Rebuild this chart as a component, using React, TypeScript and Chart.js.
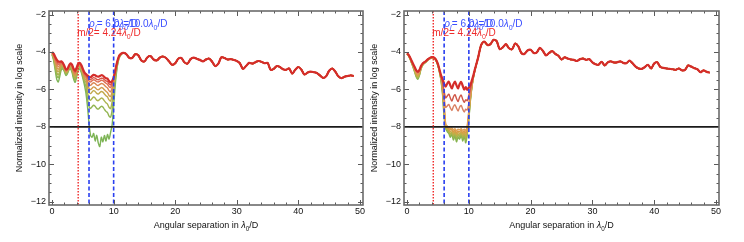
import { useEffect, useRef } from 'react';
import { Chart, registerables } from 'chart.js';

Chart.register(...registerables);

const FONT = '"Liberation Sans", Arial, Helvetica, sans-serif';

// Profiles are sampled finely up to 11 λ0/D, more coarsely beyond.
const INNER_START = 0;
const INNER_STEP = 0.25;
const OUTER_START = 11.5;
const OUTER_STEP = 0.5;

const X_TICKS = [0, 10, 20, 30, 40, 50];
const Y_TICKS = [-12, -10, -8, -6, -4, -2];
const X_MINOR = 2;
const Y_MINOR = 0.5;
const X_MIN = -0.5;
const X_MAX = 50.5;
const Y_MIN = -12.17;
const Y_MAX = -1.81;

const HALF_M = 4.24; // m/2 in λ0/D
const RHO_I = 6.0; // inner edge of the dark hole
const RHO_O = 10.0; // outer edge of the dark hole
const TARGET_LEVEL = -8;

// ---- left panel: contrast curves, green (first) to red (last) ----
const L_C0 = [-4.15, -4.45, -4.95, -5.45, -5.6, -5.3, -4.95, -4.9, -5.05, -5.25, -5.15, -4.95, -4.9, -5.1, -5.45, -5.62, -5.3, -4.95, -4.92, -5.1, -5.4, -5.75,
  -6.2, -6.9, -7.8, -8.45, -8.55, -8.35, -8.75, -8.45, -8.85, -9.05, -8.55, -8.8, -8.45, -8.75, -8.4, -8.65, -8.3, -7.9, -6.9, -5.8, -5.0, -4.5, -4.25];
const L_C1 = [-4.12, -4.38, -4.81, -5.24, -5.38, -5.14, -4.86, -4.84, -4.99, -5.18, -5.1, -4.9, -4.84, -5.02, -5.34, -5.5, -5.2, -4.88, -4.85, -5.02, -5.3, -5.62,
  -5.85, -6.5, -6.9, -7.02, -6.92, -6.84, -6.9, -7.01, -7.05, -6.97, -6.9, -6.94, -7.06, -7.17, -7.24, -7.42, -7.48, -7.1, -6.3, -5.55, -4.92, -4.47, -4.23];
const L_C2 = [-4.1, -4.32, -4.71, -5.08, -5.22, -5.03, -4.79, -4.79, -4.95, -5.13, -5.06, -4.87, -4.8, -4.95, -5.26, -5.4, -5.13, -4.83, -4.8, -4.96, -5.22, -5.52,
  -5.62, -6.15, -6.48, -6.58, -6.48, -6.4, -6.46, -6.57, -6.6, -6.52, -6.46, -6.5, -6.61, -6.71, -6.78, -6.95, -7.02, -6.65, -5.95, -5.35, -4.83, -4.43, -4.21];
const L_C3 = [-4.08, -4.27, -4.6, -4.93, -5.05, -4.91, -4.73, -4.74, -4.9, -5.09, -5.03, -4.84, -4.75, -4.89, -5.18, -5.31, -5.06, -4.79, -4.75, -4.9, -5.15, -5.42,
  -5.5, -5.9, -6.15, -6.22, -6.13, -6.06, -6.11, -6.21, -6.24, -6.17, -6.11, -6.14, -6.24, -6.33, -6.4, -6.56, -6.62, -6.3, -5.72, -5.22, -4.77, -4.41, -4.2];
const L_C4 = [-4.06, -4.22, -4.52, -4.8, -4.92, -4.82, -4.67, -4.7, -4.86, -5.05, -4.99, -4.81, -4.71, -4.84, -5.11, -5.24, -5.0, -4.75, -4.71, -4.85, -5.09, -5.33,
  -5.4, -5.72, -5.94, -6.01, -5.93, -5.86, -5.9, -5.99, -6.02, -5.96, -5.9, -5.93, -6.02, -6.1, -6.17, -6.32, -6.38, -6.1, -5.6, -5.15, -4.73, -4.39, -4.19];
const L_C5 = [-4.04, -4.18, -4.43, -4.67, -4.79, -4.72, -4.62, -4.66, -4.83, -5.01, -4.97, -4.78, -4.68, -4.79, -5.04, -5.16, -4.94, -4.71, -4.67, -4.8, -5.03, -5.25,
  -5.32, -5.55, -5.72, -5.78, -5.7, -5.64, -5.68, -5.76, -5.79, -5.73, -5.68, -5.7, -5.78, -5.86, -5.92, -6.06, -6.12, -5.9, -5.5, -5.1, -4.7, -4.37, -4.18];
const L_C6 = [-4.03, -4.14, -4.36, -4.57, -4.68, -4.64, -4.57, -4.63, -4.8, -4.97, -4.94, -4.76, -4.65, -4.75, -4.99, -5.1, -4.9, -4.67, -4.63, -4.76, -4.98, -5.19,
  -5.26, -5.42, -5.54, -5.6, -5.53, -5.48, -5.51, -5.58, -5.6, -5.55, -5.51, -5.53, -5.6, -5.67, -5.72, -5.85, -5.9, -5.72, -5.42, -5.05, -4.66, -4.35, -4.17];
const L_C7 = [-4.01, -4.11, -4.31, -4.48, -4.59, -4.58, -4.54, -4.61, -4.77, -4.95, -4.92, -4.74, -4.62, -4.71, -4.94, -5.05, -4.86, -4.65, -4.61, -4.73, -4.94, -5.13,
  -5.22, -5.35, -5.44, -5.48, -5.42, -5.37, -5.4, -5.46, -5.48, -5.44, -5.4, -5.41, -5.48, -5.54, -5.58, -5.7, -5.76, -5.62, -5.38, -5.02, -4.64, -4.34, -4.16];
const L_C8 = [-4.0, -4.08, -4.25, -4.4, -4.5, -4.52, -4.5, -4.58, -4.75, -4.92, -4.9, -4.72, -4.6, -4.68, -4.9, -5.0, -4.82, -4.62, -4.58, -4.7, -4.9, -5.08,
  -5.18, -5.25, -5.32, -5.35, -5.28, -5.22, -5.24, -5.3, -5.32, -5.28, -5.24, -5.26, -5.34, -5.4, -5.42, -5.55, -5.62, -5.55, -5.35, -5.0, -4.62, -4.32, -4.15];
// beyond 11 λ0/D the left curves coincide
const L_OUTER = [-4.05, -4.1, -4.3, -4.32, -4.12, -4.18, -4.45, -4.5, -4.28, -4.22, -4.4, -4.45, -4.3, -4.24, -4.32, -4.5, -4.68, -4.6, -4.36, -4.32,
  -4.55, -4.62, -4.38, -4.3, -4.36, -4.42, -4.5, -4.4, -4.35, -4.52, -4.75, -4.62, -4.28, -4.32, -4.4, -4.38, -4.42, -4.48, -4.6, -4.9,
  -4.75, -4.58, -4.62, -4.55, -4.48, -4.52, -4.6, -4.58, -4.95, -4.9, -4.75, -4.8, -4.92, -4.95, -4.88, -5.15, -4.95, -4.8, -4.95, -5.2,
  -5.1, -5.05, -5.08, -5.12, -5.25, -5.38, -5.3, -5.0, -4.88, -5.05, -5.3, -5.4, -5.32, -5.28, -5.25, -5.28];

// ---- right panel ----
const R_C0 = [-4.12, -4.22, -4.4, -4.62, -4.85, -5.1, -5.35, -5.45, -5.25, -4.92, -4.72, -4.62, -4.56, -4.47, -4.4, -4.35, -4.32, -4.33, -4.39, -4.52, -4.75, -5.1,
  -5.55, -6.3, -7.5, -8.1, -8.25, -8.35, -8.55, -8.4, -8.7, -8.5, -8.8, -8.55, -8.65, -8.45, -8.75, -8.5, -8.85, -8.4, -7.6, -6.6, -5.86, -5.35, -4.95];
const R_C1 = [-4.11, -4.21, -4.39, -4.6, -4.82, -5.06, -5.3, -5.4, -5.21, -4.9, -4.71, -4.61, -4.55, -4.46, -4.39, -4.34, -4.31, -4.32, -4.38, -4.51, -4.73, -5.08,
  -5.5, -6.2, -7.35, -8.05, -8.15, -8.3, -8.45, -8.35, -8.55, -8.4, -8.62, -8.45, -8.55, -8.38, -8.6, -8.42, -8.7, -8.3, -7.5, -6.55, -5.84, -5.34, -4.95];
const R_C2 = [-4.1, -4.2, -4.37, -4.58, -4.79, -5.02, -5.25, -5.34, -5.17, -4.87, -4.69, -4.6, -4.54, -4.45, -4.38, -4.33, -4.3, -4.31, -4.37, -4.5, -4.72, -5.06,
  -5.45, -6.1, -7.2, -8.0, -8.1, -8.22, -8.35, -8.28, -8.45, -8.32, -8.5, -8.38, -8.45, -8.3, -8.5, -8.35, -8.55, -8.2, -7.4, -6.5, -5.82, -5.33, -4.94];
const R_C3 = [-4.1, -4.19, -4.36, -4.56, -4.76, -4.98, -5.19, -5.28, -5.13, -4.85, -4.68, -4.59, -4.53, -4.45, -4.38, -4.33, -4.3, -4.31, -4.36, -4.49, -4.7, -5.04,
  -5.4, -6.0, -7.05, -7.95, -8.05, -8.15, -8.25, -8.2, -8.35, -8.25, -8.4, -8.3, -8.35, -8.25, -8.4, -8.28, -8.45, -8.1, -7.3, -6.45, -5.8, -5.32, -4.94];
const R_C4 = [-4.09, -4.18, -4.35, -4.54, -4.74, -4.94, -5.14, -5.22, -5.09, -4.83, -4.66, -4.58, -4.52, -4.44, -4.37, -4.32, -4.29, -4.3, -4.36, -4.48, -4.69, -5.02,
  -5.38, -5.9, -6.9, -7.9, -8.0, -8.08, -8.15, -8.12, -8.25, -8.18, -8.3, -8.22, -8.25, -8.18, -8.3, -8.2, -8.32, -8.0, -7.2, -6.4, -5.78, -5.31, -4.93];
const R_C5 = [-4.09, -4.17, -4.33, -4.53, -4.71, -4.9, -5.09, -5.17, -5.05, -4.81, -4.65, -4.57, -4.52, -4.44, -4.37, -4.32, -4.29, -4.3, -4.35, -4.47, -4.68, -5.0,
  -5.35, -5.82, -6.75, -7.85, -7.95, -8.02, -8.08, -8.05, -8.15, -8.1, -8.2, -8.12, -8.15, -8.1, -8.18, -8.12, -8.2, -7.9, -7.1, -6.35, -5.75, -5.3, -4.93];
const R_C6 = [-4.08, -4.17, -4.32, -4.51, -4.69, -4.87, -5.05, -5.12, -5.02, -4.79, -4.64, -4.56, -4.51, -4.43, -4.36, -4.31, -4.28, -4.29, -4.34, -4.46, -4.67, -4.98,
  -5.32, -5.7, -6.45, -6.95, -6.88, -6.8, -6.98, -7.12, -6.92, -6.82, -7.0, -7.15, -6.95, -6.85, -7.05, -7.2, -7.05, -7.1, -6.7, -6.15, -5.68, -5.28, -4.92];
const R_C7 = [-4.08, -4.16, -4.31, -4.49, -4.67, -4.84, -5.01, -5.08, -4.98, -4.77, -4.63, -4.55, -4.5, -4.42, -4.35, -4.3, -4.27, -4.28, -4.33, -4.45, -4.66, -4.96,
  -5.3, -5.6, -6.1, -6.45, -6.35, -6.25, -6.45, -6.62, -6.4, -6.28, -6.48, -6.65, -6.42, -6.3, -6.52, -6.68, -6.55, -6.6, -6.3, -5.95, -5.6, -5.26, -4.91];
const R_C8 = [-4.07, -4.15, -4.3, -4.48, -4.65, -4.82, -4.98, -5.05, -4.95, -4.75, -4.62, -4.55, -4.5, -4.42, -4.35, -4.3, -4.27, -4.28, -4.33, -4.45, -4.65, -4.95,
  -5.25, -5.45, -5.7, -5.85, -5.68, -5.58, -5.78, -5.95, -5.72, -5.58, -5.78, -5.95, -5.72, -5.6, -5.8, -6.0, -5.88, -6.02, -5.9, -5.75, -5.5, -5.22, -4.9];
const R_OUTER = [-4.3, -3.62, -3.45, -3.62, -3.58, -3.35, -3.42, -3.85, -3.75, -3.58, -3.8, -3.85, -3.55, -3.7, -4.05, -4.1, -3.92, -3.88, -4.05, -4.02,
  -3.78, -3.95, -4.18, -4.05, -3.95, -4.1, -4.2, -4.4, -4.28, -4.35, -4.4, -4.42, -4.48, -4.38, -4.35, -4.42, -4.38, -4.55, -4.65, -4.68,
  -4.52, -4.72, -4.55, -4.5, -4.56, -4.55, -4.5, -4.58, -4.6, -4.46, -4.6, -4.78, -4.88, -4.9, -4.8, -4.68, -4.88, -4.62, -4.55, -4.8,
  -4.85, -4.88, -4.9, -4.92, -4.95, -4.88, -4.98, -4.95, -4.72, -4.78, -4.86, -4.92, -5.08, -4.98, -5.06, -5.1];

const L_COLORS = ['#7db455', '#93b653', '#aab34e', '#c2aa4c', '#d39a4e', '#dc8653', '#df7056', '#da5446', '#d42d2a'];
const R_COLORS = ['#86b34f', '#9db54c', '#b5b248', '#cda847', '#d99a45', '#e0a055', '#d98062', '#cf5646', '#d42d2a'];

type Seg = { t: string; it?: boolean; sub?: boolean };

const TXT_RHO_I: Seg[] = [{ t: 'ρ', it: true }, { t: 'I', sub: true, it: true }, { t: '= 6.0' }, { t: 'λ', it: true }, { t: '0', sub: true }, { t: '/D' }];
const TXT_RHO_O: Seg[] = [{ t: 'ρ', it: true }, { t: 'o', sub: true, it: true }, { t: '=10.0' }, { t: 'λ', it: true }, { t: '0', sub: true }, { t: '/D' }];
const TXT_HALF_M: Seg[] = [{ t: 'm/2= 4.24' }, { t: 'λ', it: true }, { t: '0', sub: true }, { t: '/D' }];
const X_TITLE: Seg[] = [{ t: 'Angular separation in ' }, { t: 'λ', it: true }, { t: '0', sub: true }, { t: '/D' }];
const Y_TITLE = 'Normalized intensity in log scale';

const segFont = (s: Seg, size: number) => `${s.it ? 'italic ' : ''}${s.sub ? size * 0.7 : size}px ${FONT}`;

function richWidth(ctx: CanvasRenderingContext2D, segs: Seg[], size: number) {
  let w = 0;
  for (const s of segs) {
    ctx.font = segFont(s, size);
    w += ctx.measureText(s.t).width;
  }
  return w;
}

function drawRich(ctx: CanvasRenderingContext2D, segs: Seg[], x: number, y: number, size: number, color: string) {
  let cx = x;
  ctx.fillStyle = color;
  ctx.textAlign = 'left';
  ctx.textBaseline = 'alphabetic';
  for (const s of segs) {
    ctx.font = segFont(s, size);
    ctx.fillText(s.t, cx, s.sub ? y + size * 0.28 : y);
    cx += ctx.measureText(s.t).width;
  }
}

const fmt = (v: number) => (v < 0 ? '\u2212' + Math.abs(v) : String(v));

type Panel = {
  left: number;
  width: number;
  padRight: number;
  curves: number[][];
  outer: number[];
  colors: string[];
};

const PANELS: Panel[] = [
  { left: 0, width: 372, padRight: 9, curves: [L_C0, L_C1, L_C2, L_C3, L_C4, L_C5, L_C6, L_C7, L_C8], outer: L_OUTER, colors: L_COLORS },
  { left: 355, width: 389, padRight: 25, curves: [R_C0, R_C1, R_C2, R_C3, R_C4, R_C5, R_C6, R_C7, R_C8], outer: R_OUTER, colors: R_COLORS },
];

const decor = {
  id: 'decor',
  afterDatasetsDraw(chart: any) {
    const { ctx, chartArea: a } = chart;
    const xs = chart.scales.x;
    const ys = chart.scales.y;
    ctx.save();
    ctx.beginPath();
    ctx.rect(a.left, a.top, a.right - a.left, a.bottom - a.top);
    ctx.clip();

    // contrast target
    const py = ys.getPixelForValue(TARGET_LEVEL);
    ctx.strokeStyle = '#1a1a1a';
    ctx.lineWidth = 1.6;
    ctx.setLineDash([]);
    ctx.beginPath();
    ctx.moveTo(a.left, py);
    ctx.lineTo(a.right, py);
    ctx.stroke();

    // m/2
    const vx = (v: number) => xs.getPixelForValue(v);
    ctx.strokeStyle = '#f02828';
    ctx.lineWidth = 1.4;
    ctx.setLineDash([1.5, 1.5]);
    ctx.beginPath();
    ctx.moveTo(vx(HALF_M), a.top);
    ctx.lineTo(vx(HALF_M), a.bottom);
    ctx.stroke();

    // dark hole edges
    ctx.strokeStyle = '#2a3ff0';
    ctx.lineWidth = 1.6;
    ctx.setLineDash([4, 2.5]);
    for (const v of [RHO_I, RHO_O]) {
      ctx.beginPath();
      ctx.moveTo(vx(v), a.top);
      ctx.lineTo(vx(v), a.bottom);
      ctx.stroke();
    }
    ctx.setLineDash([]);
    ctx.restore();

    ctx.save();
    drawRich(ctx, TXT_RHO_I, vx(RHO_I), ys.getPixelForValue(-2.69), 10, '#3b4fff');
    drawRich(ctx, TXT_RHO_O, vx(RHO_O), ys.getPixelForValue(-2.69), 10, '#3b4fff');
    drawRich(ctx, TXT_HALF_M, vx(HALF_M) - 1, ys.getPixelForValue(-3.17), 10, '#ee2b2b');
    ctx.restore();
  },
  afterDraw(chart: any) {
    const { ctx, chartArea: a } = chart;
    const xs = chart.scales.x;
    const ys = chart.scales.y;
    ctx.save();
    ctx.strokeStyle = '#5a5a5a';
    ctx.lineWidth = 1;
    const seg = (x1: number, y1: number, x2: number, y2: number) => {
      ctx.beginPath();
      ctx.moveTo(x1, y1);
      ctx.lineTo(x2, y2);
      ctx.stroke();
    };
    const isMajor = (ticks: number[], v: number) => ticks.some((t) => Math.abs(t - v) < 1e-6);
    for (let v = X_TICKS[0]; v <= X_TICKS[X_TICKS.length - 1] + 1e-6; v += X_MINOR) {
      const len = isMajor(X_TICKS, v) ? 5 : 2.5;
      const px = Math.round(xs.getPixelForValue(v)) + 0.5;
      seg(px, a.bottom, px, a.bottom - len);
      seg(px, a.top, px, a.top + len);
    }
    for (let v = Y_TICKS[0]; v <= Y_TICKS[Y_TICKS.length - 1] + 1e-6; v += Y_MINOR) {
      const len = isMajor(Y_TICKS, v) ? 5 : 2.5;
      const py = Math.round(ys.getPixelForValue(v)) + 0.5;
      seg(a.left, py, a.left + len, py);
      seg(a.right, py, a.right - len, py);
    }
    ctx.strokeStyle = '#6b6b6b';
    ctx.lineWidth = 1.6;
    ctx.strokeRect(a.left, a.top, a.right - a.left, a.bottom - a.top);

    // axis titles
    const cx = (a.left + a.right) / 2;
    const w = richWidth(ctx, X_TITLE, 9);
    drawRich(ctx, X_TITLE, cx - w / 2, 228, 9, '#111');

    ctx.translate(a.left - 29, (a.top + a.bottom) / 2);
    ctx.rotate(-Math.PI / 2);
    ctx.font = `9px ${FONT}`;
    ctx.fillStyle = '#111';
    ctx.textAlign = 'center';
    ctx.textBaseline = 'middle';
    ctx.fillText(Y_TITLE, 0, 0);
    ctx.restore();
  },
};

function ContrastPanel({ panel }: { panel: Panel }) {
  const ref = useRef<HTMLCanvasElement>(null);
  useEffect(() => {
    const canvas = ref.current;
    if (!canvas) return;
    const n = panel.curves.length;
    const datasets = panel.curves.map((inner, i) => ({
      data: [
        ...inner.map((y, k) => ({ x: INNER_START + k * INNER_STEP, y })),
        ...panel.outer.map((y, k) => ({ x: OUTER_START + k * OUTER_STEP, y })),
      ],
      borderColor: panel.colors[i],
      borderWidth: i === n - 1 ? 2.2 : 1.4,
      pointRadius: 0,
      tension: 0.3,
      fill: false,
      order: n - 1 - i,
    }));
    const chart = new Chart(canvas, {
      type: 'line',
      data: { datasets },
      options: {
        animation: false,
        responsive: false,
        devicePixelRatio: 1,
        layout: { padding: { top: 11, right: panel.padRight, left: 0, bottom: 0 } },
        plugins: { legend: { display: false }, tooltip: { enabled: false } },
        scales: {
          x: {
            type: 'linear',
            min: X_MIN,
            max: X_MAX,
            grid: { display: false, drawTicks: false },
            border: { display: false },
            afterBuildTicks: (s: any) => {
              s.ticks = X_TICKS.map((value) => ({ value }));
            },
            afterFit: (s: any) => {
              s.height = 37;
            },
            ticks: {
              padding: 1,
              color: '#111',
              font: { family: FONT, size: 9 },
              maxRotation: 0,
              autoSkip: false,
              callback: (v: any) => fmt(Number(v)),
            },
          },
          y: {
            type: 'linear',
            min: Y_MIN,
            max: Y_MAX,
            grid: { display: false, drawTicks: false },
            border: { display: false },
            afterBuildTicks: (s: any) => {
              s.ticks = Y_TICKS.map((value) => ({ value }));
            },
            afterFit: (s: any) => {
              s.width = 49;
            },
            ticks: {
              padding: 3,
              color: '#111',
              font: { family: FONT, size: 9 },
              autoSkip: false,
              callback: (v: any) => fmt(Number(v)),
            },
          },
        },
      } as any,
      plugins: [decor],
    });
    return () => chart.destroy();
  }, [panel]);
  return (
    <canvas
      ref={ref}
      width={panel.width}
      height={242}
      style={{ position: 'absolute', left: panel.left, top: 0, width: panel.width, height: 242 }}
    />
  );
}

export default function App() {
  return (
    <div style={{ position: 'absolute', left: 0, top: 0, width: 744, height: 242, background: '#fff', overflow: 'hidden' }}>
      {PANELS.map((p, i) => (
        <ContrastPanel key={i} panel={p} />
      ))}
    </div>
  );
}
